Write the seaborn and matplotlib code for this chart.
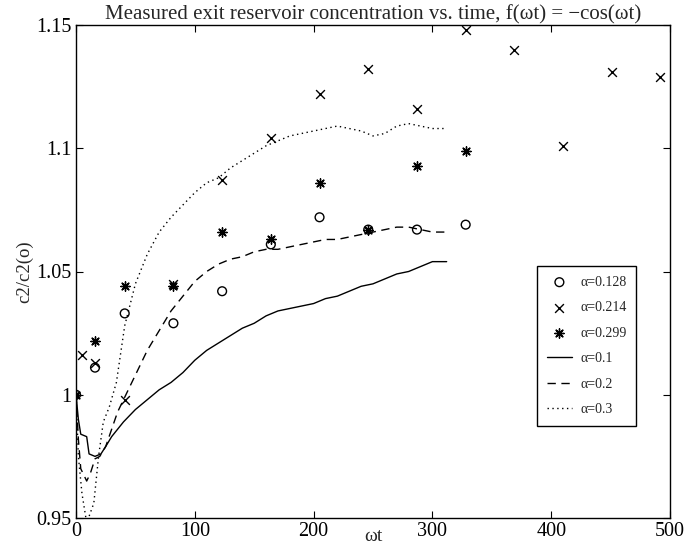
import matplotlib
matplotlib.use("Agg")
import matplotlib.pyplot as plt
import seaborn as sns
import pandas as pd

# ---- measured data (markers) ----
x_a128 = [0, 16, 41, 82, 123, 164, 205, 246, 287, 328]
y_a128 = [1.000, 1.011, 1.033, 1.029, 1.042, 1.061, 1.072, 1.067, 1.067, 1.069]

x_a214 = [5, 16, 41, 82, 123, 164, 205, 246, 287, 328, 369, 410, 451, 492]
y_a214 = [1.016, 1.013, 0.998, 1.045, 1.087, 1.104, 1.122, 1.132, 1.116, 1.148, 1.140, 1.101, 1.131, 1.129]

x_a299 = [0, 16, 41, 82, 123, 164, 205, 246, 287, 328]
y_a299 = [1.000, 1.022, 1.044, 1.044, 1.066, 1.063, 1.086, 1.067, 1.093, 1.099]

# ---- simulated curves ----
x_sim1 = [0, 2, 4, 9, 11, 16, 21, 25, 30, 40, 50, 60, 70, 80, 90, 100, 110, 120, 130, 140, 150,
          160, 170, 180, 190, 200, 210, 220, 230, 240, 250, 260, 270, 280, 290, 300, 312]
y_sim1 = [1.000, 0.990, 0.984, 0.983, 0.976, 0.975, 0.976, 0.979, 0.983, 0.989, 0.994, 0.998,
          1.002, 1.005, 1.009, 1.014, 1.018, 1.021, 1.024, 1.027, 1.029, 1.032, 1.034, 1.035,
          1.036, 1.037, 1.039, 1.040, 1.042, 1.044, 1.045, 1.047, 1.049, 1.050, 1.052, 1.054, 1.054]

x_sim2 = [0, 2, 4, 9, 12, 16, 20, 25, 30, 35, 42, 50, 60, 70, 80, 90, 100, 110, 120, 130, 140,
          150, 160, 170, 180, 190, 200, 210, 220, 230, 240, 250, 260, 270, 280, 290, 300, 312]
y_sim2 = [1.000, 0.982, 0.970, 0.965, 0.968, 0.974, 0.975, 0.979, 0.986, 0.993, 1.000, 1.008,
          1.018, 1.026, 1.034, 1.040, 1.046, 1.050, 1.053, 1.055, 1.056, 1.058, 1.059, 1.059,
          1.060, 1.061, 1.062, 1.063, 1.063, 1.064, 1.065, 1.066, 1.067, 1.068, 1.068, 1.067,
          1.066, 1.066]

x_sim3 = [0, 2, 5, 9, 12, 15, 19, 23, 28, 34, 41, 50, 60, 70, 80, 90, 100, 110, 120, 130, 140,
          150, 160, 170, 180, 190, 200, 210, 220, 230, 240, 250, 260, 270, 280, 290, 300, 312]
y_sim3 = [1.000, 0.975, 0.960, 0.948, 0.952, 0.956, 0.975, 0.989, 0.995, 1.005, 1.028, 1.045,
          1.057, 1.066, 1.072, 1.077, 1.082, 1.086, 1.088, 1.092, 1.095, 1.098, 1.101, 1.103,
          1.105, 1.106, 1.107, 1.108, 1.109, 1.108, 1.107, 1.105, 1.106, 1.109, 1.110, 1.109,
          1.108, 1.108]

x_ticks = [0, 100, 200, 300, 400, 500]
y_ticks = [0.95, 1.0, 1.05, 1.1, 1.15]
y_ticklabels = ["0.95", "1", "1.05", "1.1", "1.15"]

title = "Measured exit reservoir concentration vs. time, f(\u03c9t) = \u2212cos(\u03c9t)"

sns.set_theme(style="ticks")
plt.rcParams["font.family"] = ["Liberation Serif", "DejaVu Serif"]
plt.rcParams["mathtext.fontset"] = "stix"

fig = plt.figure(figsize=(6.87, 5.45), dpi=100)
ax = fig.add_axes([76 / 687, 1 - 518 / 545, (670 - 76) / 687, (518 - 25) / 545])

sns.scatterplot(x=x_a128, y=y_a128, ax=ax, marker="o", s=40, facecolors="none",
                edgecolor="black", linewidth=1.0, label="\u03b1=0.128")
sns.scatterplot(x=x_a214, y=y_a214, ax=ax, marker="x", s=40, color="black",
                linewidth=1.0, label="\u03b1=0.214")
sns.scatterplot(x=x_a299, y=y_a299, ax=ax, marker=(8, 2, 0), s=45, color="black",
                linewidth=1.0, label="\u03b1=0.299")

sns.lineplot(x=x_sim1, y=y_sim1, ax=ax, color="black", linewidth=1.0,
             linestyle="-", label="\u03b1=0.1", estimator=None, sort=False)
sns.lineplot(x=x_sim2, y=y_sim2, ax=ax, color="black", linewidth=1.0,
             linestyle=(0, (6, 4)), label="\u03b1=0.2", estimator=None, sort=False)
sns.lineplot(x=x_sim3, y=y_sim3, ax=ax, color="black", linewidth=1.0,
             linestyle=(0, (1, 2.5)), label="\u03b1=0.3", estimator=None, sort=False)

ax.set_xlim(0, 500)
ax.set_ylim(0.95, 1.15)
ax.set_xticks(x_ticks)
ax.set_xticklabels([str(t) for t in x_ticks])
ax.set_yticks(y_ticks)
ax.set_yticklabels(y_ticklabels)
ax.tick_params(direction="in", top=True, right=True, length=5, width=0.8,
               labelsize=14.5, colors="black", pad=3)
for s in ax.spines.values():
    s.set_visible(True)
    s.set_color("black")
    s.set_linewidth(1.0)

ax.set_title(title, fontsize=15, pad=4)
ax.set_xlabel("\u03c9t", fontsize=14, va="top")
ax.xaxis.set_label_coords(0.5, -0.021)
ax.set_ylabel("c2/c2(o)", fontsize=13.5, labelpad=2)

leg = ax.legend(loc="upper right", bbox_to_anchor=(0.955, 0.525), fontsize=10,
                frameon=True, fancybox=False, edgecolor="black", framealpha=1,
                handlelength=1.8, borderpad=0.7, labelspacing=0.9, handletextpad=0.6)
leg.get_frame().set_linewidth(1.0)

fig.savefig("out.png", dpi=100, facecolor="white")
